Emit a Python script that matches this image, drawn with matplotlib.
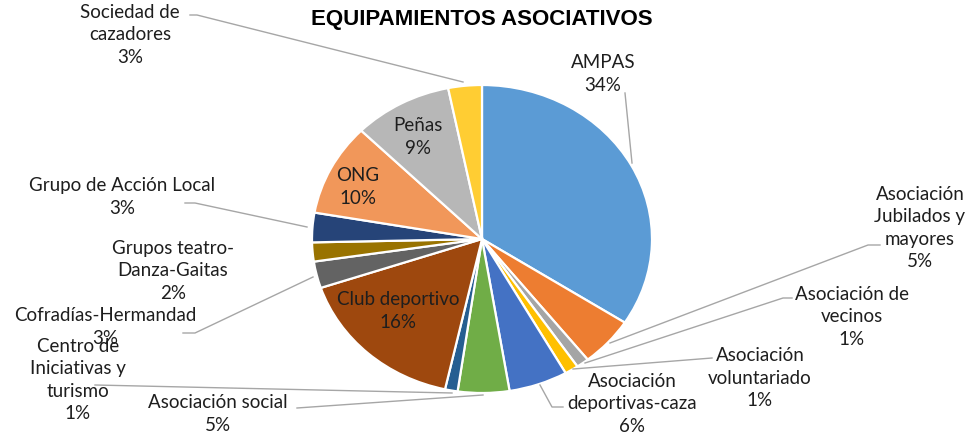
import matplotlib.pyplot as plt

# Data (share of associations, %)
categories = ["AMPAS", "Asociación\nJubilados y\nmayores", "Asociación de\nvecinos",
              "Asociación\nvoluntariado", "Asociación\ndeportivas-caza", "Asociación social",
              "Centro de\nIniciativas y\nturismo", "Club deportivo", "Cofradías-Hermandad",
              "Grupos teatro-\nDanza-Gaitas", "Grupo de Acción Local", "ONG", "Peñas",
              "Sociedad de\ncazadores"]
values = [34.2, 5.2, 1.2, 1.3, 5.6, 4.9, 1.2, 16.4, 2.8, 2.0, 3.1, 9.7, 9.4, 3.2]
colors = ["#5B9BD5", "#ED7D31", "#A5A5A5", "#FFC000", "#4472C4", "#70AD47", "#255E91",
          "#9E480E", "#636363", "#997300", "#264478", "#F1975A", "#B7B7B7", "#FFCD33"]

total = sum(values)
pct_labels = [f"{round(v / total * 100):.0f}%" for v in values]

W, H = 976, 434
fig = plt.figure(figsize=(W / 100, H / 100), dpi=100)

# pie (stretched a bit horizontally like the original picture)
cx, cy, rx, ry = 482, 239, 170, 154
ax = fig.add_axes([(cx - rx) / W, (H - cy - ry) / H, 2 * rx / W, 2 * ry / H])
ax.pie(values, colors=colors, startangle=90, counterclock=False,
       wedgeprops=dict(edgecolor="white", linewidth=1.6))
ax.set_aspect("auto")
ax.set_xlim(-1, 1)
ax.set_ylim(-1, 1)
ax.axis("off")

# overlay in pixel coordinates for labels + leader lines
ov = fig.add_axes([0, 0, 1, 1])
ov.set_xlim(0, W)
ov.set_ylim(H, 0)
ov.axis("off")
ov.patch.set_alpha(0)

ov.text(482, 19, "EQUIPAMIENTOS ASOCIATIVOS", ha="center", va="center",
        fontsize=16, fontweight="bold", family="Liberation Sans")

font = dict(family="Lato", fontsize=13.5, color="#1e1e1e", ha="center", va="center",
            linespacing=1.4)

# label centre positions (pixels) for each category
label_pos = [(603, 74), (920, 228), (852, 317), (760, 378), (632, 404), (218, 414),
             (78, 380), (398, 311), (105, 327), (173, 271), (122, 197), (358, 187),
             (418, 137), (130, 35)]
for name, pct, (x, y) in zip(categories, pct_labels, label_pos):
    ov.text(x, y, name + "\n" + pct, **font)

# leader lines
leaders = [
    [(625, 93), (632, 163)],
    [(880, 245), (868, 245), (610, 343)],
    [(792, 298), (783, 298), (585, 363)],
    [(712, 358), (573, 369)],
    [(563, 407), (552, 407), (540, 385)],
    [(297, 408), (483, 395)],
    [(95, 385), (452, 393)],
    [(183, 333), (195, 333), (313, 277)],
    [(185, 203), (195, 203), (307, 227)],
    [(190, 15), (197, 15), (463, 82)],
]
for pts in leaders:
    xs, ys = zip(*pts)
    ov.plot(xs, ys, color="#A6A6A6", lw=1)

fig.savefig("out.png", dpi=100)
